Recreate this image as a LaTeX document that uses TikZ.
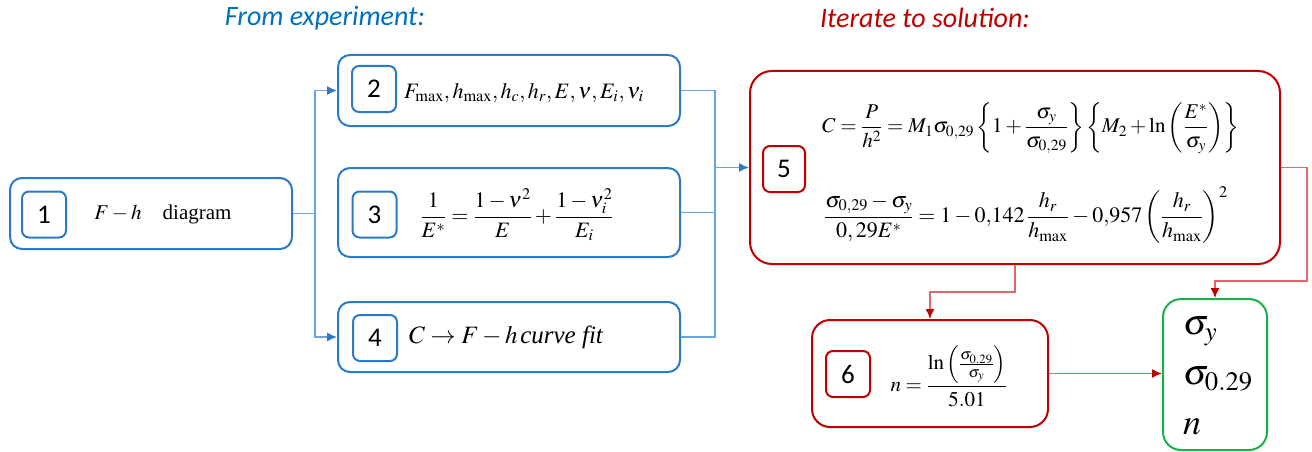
\documentclass[tikz,border=0pt]{standalone}
\usepackage{amsmath}
\usepackage{mathptmx}
\usepackage[no-math]{fontspec}
\setmainfont{Liberation Serif}
\newfontfamily\calibri{Carlito}
\usetikzlibrary{arrows.meta}

\definecolor{boxblue}{HTML}{2A7AC8}
\definecolor{linkblue}{HTML}{6AA6DC}
\definecolor{titleblue}{HTML}{0070C0}
\definecolor{boxred}{HTML}{C00000}
\definecolor{linkred}{HTML}{E06868}
\definecolor{boxgreen}{HTML}{1DB04A}

\begin{document}
\begin{tikzpicture}[
                x=1pt, y=-1pt,
                % Estilos de las cajas
                blue box/.style={
                    draw=boxblue,
                    line width=2pt,
                    rounded corners=12pt
                },
                red box/.style={
                    draw=boxred,
                    line width=2pt,
                    rounded corners=22pt
                },
                green box/.style={
                    draw=boxgreen,
                    line width=2pt,
                    rounded corners=18pt,
                    minimum width=104pt,
                    minimum height=151pt
                },
                num box/.style={
                    draw=#1,
                    line width=2pt,
                    rounded corners=7pt,
                    minimum width=44pt,
                    minimum height=46pt,
                    inner sep=0pt,
                    font=\calibri\fontsize{27}{30}\selectfont
                },
                formula/.style={
                    inner sep=0pt,
                    font=\fontsize{22}{26}\selectfont
                },
                title/.style={
                    font=\calibri\itshape\fontsize{28}{32}\selectfont
                },
                blue link/.style={
                    draw=linkblue,
                    line width=1.4pt
                },
                red link/.style={
                    draw=linkred,
                    line width=1.4pt
                },
                blue tip/.style={-{Latex[length=10pt, width=9pt, color=boxblue]}},
                red tip/.style={-{Latex[length=10pt, width=9pt, color=boxred]}}
            ]

                \useasboundingbox (0,0) rectangle (1312,452);

                % --- TITULOS ---
                \node[title, text=titleblue] (ttl1) at (325,18) {From experiment:};
                \node[title, text=boxred] (ttl2) at (925,18) {Iterate to solution:};

                % --- DATOS EXPERIMENTALES ---
                \node[blue box, minimum width=282pt, minimum height=71pt] (box1) at (151,213.5) {};
                \node[num box=boxblue] (num1) at (44,214.5) {1};
                \node[formula, font=\fontsize{21}{25}\selectfont] (txt1) at (163,214) {$F-h$\quad diagram};

                \node[blue box, minimum width=342pt, minimum height=71pt] (box2) at (509,90.5) {};
                \node[num box=boxblue] (num2) at (374,89) {2};
                \node[formula, anchor=west] (txt2) at (404,93) {$F_{\max}, h_{\max}, h_c, h_r, E, \nu, E_i, \nu_i$};

                \node[blue box, minimum width=342pt, minimum height=89pt] (box3) at (509,212.5) {};
                \node[num box=boxblue] (num3) at (374.5,214.5) {3};
                \node[formula] (txt3) at (517,215) {$\dfrac{1}{E^*}=\dfrac{1-\nu^2}{E}+\dfrac{1-\nu_i^2}{E_i}$};

                \node[blue box, minimum width=342pt, minimum height=70pt] (box4) at (509,337) {};
                \node[num box=boxblue] (num4) at (375,338) {4};
                \node[formula, anchor=west, font=\fontsize{25}{29}\selectfont] (txt4) at (409,337) {$C\rightarrow F-h\,$\textit{curve fit}};

                % --- ITERACION ---
                \node[red box, minimum width=530pt, minimum height=193pt] (box5) at (1015,167.5) {};
                \node[num box=boxred, minimum width=42pt] (num5) at (784,169) {5};
                \node[formula, anchor=west, font=\fontsize{21}{25}\selectfont] (eq5a) at (822,128) {$C=\dfrac{P}{h^2}=M_1\sigma_{0,29}\left\{1+\dfrac{\sigma_y}{\sigma_{0,29}}\right\}\left\{M_2+\ln\left(\dfrac{E^*}{\sigma_y}\right)\right\}$};
                \node[formula, anchor=west] (eq5b) at (824,215) {$\dfrac{\sigma_{0,29}-\sigma_y}{0,29E^*}=1-0{,}142\,\dfrac{h_r}{h_{\max}}-0{,}957\left(\dfrac{h_r}{h_{\max}}\right)^2$};

                \node[red box, rounded corners=18pt, minimum width=236pt, minimum height=107pt] (box6) at (930,373.5) {};
                \node[num box=boxred] (num6) at (848,374) {6};
                \node[formula, font=\fontsize{21}{25}\selectfont] (txt6) at (949,376) {$\displaystyle n=\frac{\ln\left(\frac{\sigma_{0.29}}{\sigma_y}\right)}{5.01}$};

                % --- RESULTADO ---
                \node[green box] (result) at (1215,374.5) {};
                \node[align=left, inner sep=0pt, font=\fontsize{36}{50}\selectfont] (resvals) at (1218,376) {$\sigma_y$\\$\sigma_{0.29}$\\$n$};

                % --- CONEXIONES ---
                \coordinate (forkL) at (315,213.5);
                \coordinate (forkR) at (715,167.5);
                \coordinate (bend6) at (930,292);
                \coordinate (bendR) at (1307,281);

                \draw[blue link] (box1.east) -- (forkL);
                \draw[blue link, blue tip] (forkL) |- (box2.west);
                \draw[blue link, blue tip] (forkL) |- (box4.west);

                \draw[blue link] (box2.east) -| (forkR);
                \draw[blue link] (box3.east) -| (forkR);
                \draw[blue link] (box4.east) -| (forkR);
                \draw[blue link, blue tip] (forkR) -- (box5.west);

                \draw[red link, red tip] (box5.south) |- (bend6) -- (box6.north);
                \draw[red link, red tip] (box5.east) -| (bendR) -| (result.north);
                \draw[red link, red tip] (box6.east) -- (box6.east -| result.west);

            \end{tikzpicture}
\end{document}
